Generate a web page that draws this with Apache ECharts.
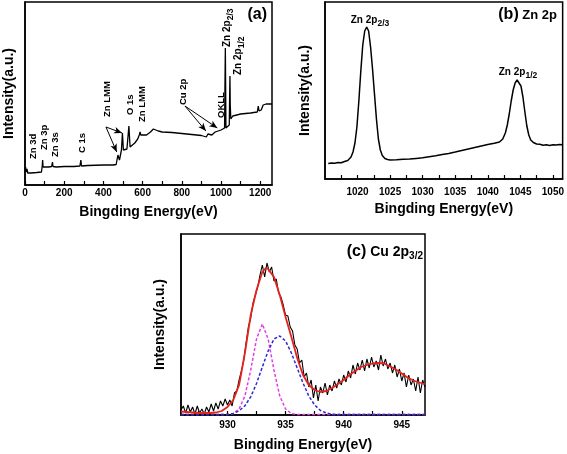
<!DOCTYPE html>
<html><head><meta charset="utf-8">
<script src="https://cdn.jsdelivr.net/npm/echarts@6/dist/echarts.min.js"></script>
<style>html,body{margin:0;padding:0;background:#fff}#c{width:567px;height:454px}</style>
</head><body><div id="c"></div>
<script>
const FONT = '"Liberation Sans", Arial, Helvetica, sans-serif';

// ---- (a) survey spectrum ----
const surveyBE = [0,3,6,10,14,30,60,84,88,90,92,96,100,120,136,140,143,160,200,250,280,285,288,320,400,450,465,470,474,478,482,488,492,497,500,502,506,512,520,527,530,533,536,545,560,575,583,587,591,600,620,640,655,665,680,700,750,800,850,900,925,933,936,942,953,960,970,978,985,1000,1010,1018,1020,1022,1023.5,1025,1035,1042,1044,1045.5,1047,1050,1060,1100,1150,1185,1190,1194,1205,1215,1230,1260];
const surveyI  = [14,18,13,16,12,12,12.5,13,19,25,18,19,17.5,18,18.5,23,18.5,18,18.5,18.5,19,25,19,19.5,20,20,20.5,22,30,29,25,27,35,52,51,35,33,34,36,38,59,58,38,40,42,46,50,53,50,49,50,53,56,57,54,53,52.5,51.5,50.5,49.5,48,51,52,49,50,51,53,55,54,55,56,57,100,137,100,57,58,60,90,109,80,66,69,71,72,73,79,74,75,80,81,81];
const surveyTicks = [0,100,200,300,400,500,600,700,800,900,1000,1100,1200];
const surveyLabels = [0,200,400,600,800,1000,1200];
// arrows: [fromBE, fromI, toBE, toI]
const surveyArrows = [[413,58,495,52],[413,58,468,33],[816,79,923,54],[816,79,981,57]];

// ---- (b) Zn 2p ----
const zn2pBE = [1015.5,1016,1016.5,1017,1017.5,1018,1018.5,1019,1019.3,1019.6,1019.9,1020.2,1020.5,1020.8,1021.1,1021.4,1021.7,1022.0,1022.3,1022.6,1022.9,1023.2,1023.5,1023.8,1024.2,1024.6,1025,1026,1027,1028,1029,1030,1031,1032,1033,1034,1035,1036,1037,1038,1039,1040,1041,1041.8,1042.3,1042.7,1043.0,1043.3,1043.6,1043.9,1044.2,1044.5,1044.8,1045.1,1045.4,1045.7,1046.0,1046.3,1046.6,1047,1047.5,1048,1048.5,1049,1049.5,1050,1050.5,1051,1051.5];
const zn2pI  = [15.5,16,15.8,16.5,16.2,17.5,18.5,22,27,36,52,78,108,134,148,152,148,132,110,85,60,40,29,23.5,20.5,19.5,19,19.2,19.8,20,20.6,21.2,22.3,23.2,24.5,25.6,27,28.5,30,31.5,33,34.5,35.8,37,40,46,54,65,78,89,96,99,98,93,82,67,53,44,39,36.5,35,34.8,33.8,34.2,33.6,34.3,34,34.6,34.2];
const zn2pTicks = [1017.5,1020,1022.5,1025,1027.5,1030,1032.5,1035,1037.5,1040,1042.5,1045,1047.5,1050];
const zn2pLabels = [1020,1025,1030,1035,1040,1045,1050];

// ---- (c) Cu 2p3/2 ----
const cuRawBE = [926.0,926.2,926.4,926.6,926.8,927.0,927.2,927.4,927.6,927.8,928.0,928.2,928.4,928.6,928.8,929.0,929.2,929.4,929.6,929.8,930.0,930.2,930.4,930.6,930.8,931.0,931.2,931.4,931.6,931.8,932.0,932.2,932.4,932.6,932.8,933.0,933.2,933.4,933.6,933.8,934.0,934.2,934.4,934.6,934.8,935.0,935.2,935.4,935.6,935.8,936.0,936.2,936.4,936.6,936.8,937.0,937.2,937.4,937.6,937.8,938.0,938.2,938.4,938.6,938.8,939.0,939.2,939.4,939.6,939.8,940.0,940.2,940.4,940.6,940.8,941.0,941.2,941.4,941.6,941.8,942.0,942.2,942.4,942.6,942.8,943.0,943.2,943.4,943.6,943.8,944.0,944.2,944.4,944.6,944.8,945.0,945.2,945.4,945.6,945.8,946.0,946.2,946.4,946.6,946.8,947.0];
const cuRaw = [5,9,2,10,3,8,1,9,2,6,1,8,3,11,4,12,6,14,9,16,10,15,9,22,24,35,44,55,72,88,97,112,120,128,140,150,138,152,143,148,134,136,122,118,110,100,99,88,84,70,66,52,55,38,42,28,35,17,30,14,28,22,32,20,30,24,34,27,36,30,40,33,44,37,50,41,52,45,55,44,56,47,58,48,54,45,60,49,56,46,52,42,50,38,46,34,42,28,40,30,36,24,38,22,35,28];
const cuFitBE = [926,926.5,927,927.5,928,928.5,929,929.5,930,930.5,931,931.5,932,932.5,933,933.3,933.5,934,934.5,935,935.5,936,936.5,937,937.5,938,938.5,939,939.5,940,940.5,941,941.5,942,942.5,943,943.5,944,944.5,945,945.5,946,946.5,947];
const cuFit = [3.5,3,2.5,2,2,2,2.5,4,8,15,30,62,100,125,143,147,146,138,120,98,78,57,40,30,25,23,24,27,31,35,40,44,48,50,51.5,52,51.5,48.5,45.5,41.5,37.5,34.5,32.5,31];
const cuPk1BE = [926,929.5,930,930.5,931,931.5,932,932.5,933,933.5,934,934.5,935,935.5,936,936.5,947];
const cuPk1 = [0.5,0.5,0.6,1.4,6,19,45,76,91,76,45,19,6,1.4,0.6,0.5,0.5];
const cuPk2BE = [926,929.5,930,930.5,931,931.5,932,932.5,933,933.5,934,934.5,935,935.5,936,936.5,937,937.5,938,938.5,939,939.5,947];
const cuPk2 = [0.5,0.5,0.6,1.6,4.1,9.2,18.2,31.5,48,64,76,79,74,62,47,32,19,10,4.5,2,0.8,0.5,0.5];
const cuTicks = [927.5,930,932.5,935,937.5,940,942.5,945];
const cuLabels = [930,935,940,945];

const zip = (xs, ys) => xs.map((x, i) => [x, ys[i]]);

function xAx(gi, min, max, ticks, labels, margin, gap) {
  return {
    type: 'value', gridIndex: gi, min, max,
    name: 'Bingding Energy(eV)', nameLocation: 'middle', nameGap: gap,
    nameTextStyle: {fontFamily: FONT, fontWeight: 'bold', fontSize: 14, color: '#000'},
    axisLine: {show: true, lineStyle: {color: '#000', width: 1.5}},
    axisTick: {show: true, inside: true, length: 4, customValues: ticks, lineStyle: {color: '#000', width: 1.2}},
    axisLabel: {customValues: labels, formatter: v => String(v), fontFamily: FONT, fontWeight: 'bold', fontSize: 10, color: '#000', margin},
    splitLine: {show: false}
  };
}
function yAx(gi, max, gap) {
  return {
    type: 'value', gridIndex: gi, min: 0, max,
    name: 'Intensity(a.u.)', nameLocation: 'middle', nameGap: gap,
    nameTextStyle: {fontFamily: FONT, fontWeight: 'bold', fontSize: 14, color: '#000'},
    axisLine: {show: true, lineStyle: {color: '#000', width: 1.5}},
    axisTick: {show: false}, axisLabel: {show: false}, splitLine: {show: false}
  };
}
function line(xi, data, color, width, type) {
  return {type: 'line', xAxisIndex: xi, yAxisIndex: xi, data, showSymbol: false, symbol: 'none',
    lineStyle: {color, width, type: type || 'solid'}, silent: true, z: 3};
}
function vtext(x, y, text, size) {
  return {type: 'text', x, y, rotation: Math.PI / 2, z: 10,
    style: {text, fill: '#000', fontFamily: FONT, fontWeight: 'bold', fontSize: size,
      align: 'left', verticalAlign: 'middle',
      rich: {s: {fontFamily: FONT, fontWeight: 'bold', fontSize: size - 1.5, padding: [7, 0, 0, 0]}}}};
}
function htext(x, y, text, size, align) {
  return {type: 'text', x, y, z: 10,
    style: {text, fill: '#000', fontFamily: FONT, fontWeight: 'bold', fontSize: size,
      align: align || 'center', verticalAlign: 'middle',
      rich: {
        s: {fontFamily: FONT, fontWeight: 'bold', fontSize: size - 1.5, padding: [7, 0, 0, 0]},
        p: {fontFamily: FONT, fontWeight: 'bold', fontSize: 16},
        t: {fontFamily: FONT, fontWeight: 'bold', fontSize: size},
        ts: {fontFamily: FONT, fontWeight: 'bold', fontSize: size - 4, padding: [9, 0, 0, 0]}
      }}};
}

const surveySeries = line(0, zip(surveyBE, surveyI), '#000', 1.3);
surveySeries.markLine = {
  silent: true, symbol: ['none', 'arrow'], symbolSize: [5, 8], animation: false,
  label: {show: false}, lineStyle: {color: '#000', width: 1, type: 'solid'},
  data: surveyArrows.map(a => [{coord: [a[0], a[1]]}, {coord: [a[2], a[3]]}])
};

const option = {
  animation: false,
  backgroundColor: '#fff',
  textStyle: {fontFamily: FONT},
  grid: [
    {left: 25, top: 2, width: 247, height: 183, show: true, borderColor: '#000', borderWidth: 1.5, containLabel: false},
    {left: 325, top: 2, width: 239, height: 177, show: true, borderColor: '#000', borderWidth: 1.5, containLabel: false},
    {left: 181, top: 234, width: 244, height: 181, show: true, borderColor: '#000', borderWidth: 1.5, containLabel: false}
  ],
  xAxis: [
    xAx(0, 0, 1260, surveyTicks, surveyLabels, 3, 20),
    xAx(1, 1015, 1051.5, zn2pTicks, zn2pLabels, 8, 23),
    xAx(2, 926, 947, cuTicks, cuLabels, 5, 23)
  ],
  yAxis: [yAx(0, 183, 9), yAx(1, 177, 13), yAx(2, 181, 14)],
  series: [
    surveySeries,
    line(1, zip(zn2pBE, zn2pI), '#000', 1.5),
    line(2, zip(cuRawBE, cuRaw), '#000', 1.1),
    line(2, zip(cuPk1BE, cuPk1), '#e23de6', 1.5, [3, 2]),
    line(2, zip(cuPk2BE, cuPk2), '#2b2bd6', 1.5, [3, 2]),
    line(2, zip(cuFitBE, cuFit), '#e5231d', 1.8)
  ],
  graphic: [
    vtext(33, 159, 'Zn 3d', 9.5),
    vtext(44, 150, 'Zn 3p', 9.5),
    vtext(55, 157, 'Zn 3s', 9.5),
    vtext(82, 153, 'C 1s', 9.5),
    vtext(107, 117, 'Zn LMM', 9.5),
    vtext(130, 115, 'O 1s', 9.5),
    vtext(142, 122, 'Zn LMM', 9.5),
    vtext(183, 105, 'Cu 2p', 9.5),
    vtext(221, 118, 'OKLL', 9.5),
    vtext(227, 47, 'Zn 2p{s|2/3}', 10),
    vtext(238, 75, 'Zn 2p{s|1/2}', 10),
    htext(267, 15, '{p|(a)}', 16, 'right'),
    htext(370, 20, 'Zn 2p{s|2/3}', 10),
    htext(518, 72, 'Zn 2p{s|1/2}', 10),
    htext(557, 15, '{p|(b)} {t|Zn 2p}', 13, 'right'),
    htext(423, 252, '{p|(c)} {t|Cu 2p}{ts|3/2}', 14, 'right')
  ]
};
const chart = echarts.init(document.getElementById('c'), null, {renderer: 'canvas'});
chart.setOption(option);
</script></body></html>
